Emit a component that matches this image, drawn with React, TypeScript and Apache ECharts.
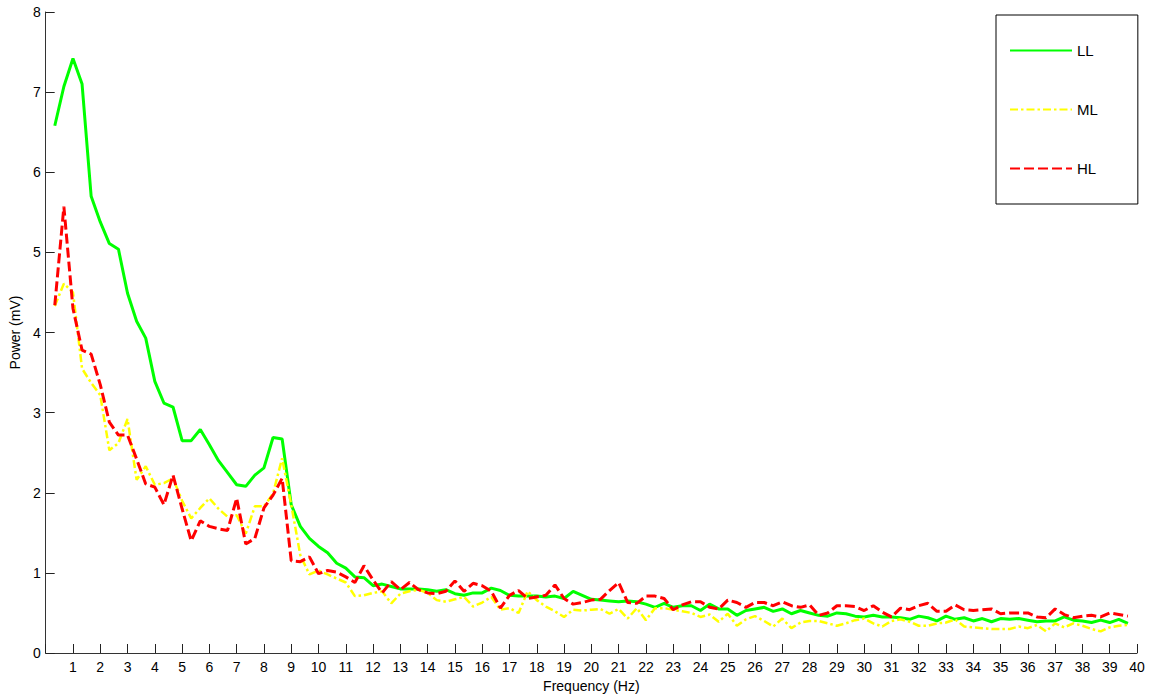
import React, { useEffect, useRef } from "react";
import * as echarts from "echarts";

// Spectral resolution of the power estimates (Hz); first bin sits at one step.
const FREQ_STEP = 1 / 3;

// Power (mV) per frequency bin, one value per step from 1/3 Hz up to 39 2/3 Hz.
const LL = [
  6.58, 7.07, 7.42, 7.1, 5.7, 5.38, 5.11, 5.04, 4.49, 4.14,
  3.93, 3.39, 3.12, 3.07, 2.65, 2.65, 2.79, 2.6, 2.4, 2.25,
  2.1, 2.08, 2.22, 2.31, 2.69, 2.67, 1.85, 1.58, 1.43, 1.33,
  1.25, 1.12, 1.06, 0.95, 0.94, 0.84, 0.86, 0.83, 0.8, 0.8,
  0.8, 0.79, 0.77, 0.79, 0.74, 0.72, 0.75, 0.75, 0.81, 0.78,
  0.72, 0.71, 0.71, 0.71, 0.7, 0.71, 0.68, 0.77, 0.72, 0.67,
  0.66, 0.65, 0.64, 0.65, 0.64, 0.61, 0.57, 0.62, 0.57, 0.59,
  0.59, 0.53, 0.61, 0.55, 0.55, 0.47, 0.53, 0.55, 0.57, 0.52,
  0.55, 0.49, 0.53, 0.5, 0.47, 0.46, 0.5, 0.49, 0.46, 0.45,
  0.47, 0.45, 0.45, 0.44, 0.42, 0.46, 0.44, 0.4, 0.46, 0.42,
  0.44, 0.4, 0.43, 0.39, 0.43, 0.42, 0.43, 0.41, 0.39, 0.4,
  0.4, 0.45, 0.41, 0.4, 0.38, 0.41, 0.38, 0.42, 0.37,
];

const ML = [
  4.33, 4.61, 4.5, 3.55, 3.37, 3.22, 2.53, 2.62, 2.92, 2.16,
  2.33, 2.1, 2.12, 2.18, 1.9, 1.68, 1.81, 1.93, 1.8, 1.7,
  1.72, 1.49, 1.83, 1.83, 1.99, 2.43, 1.85, 1.22, 0.98, 1.03,
  0.98, 0.93, 0.88, 0.71, 0.72, 0.75, 0.77, 0.62, 0.74, 0.77,
  0.79, 0.75, 0.66, 0.64, 0.67, 0.7, 0.58, 0.63, 0.7, 0.54,
  0.56, 0.5, 0.77, 0.66, 0.58, 0.52, 0.45, 0.54, 0.53, 0.54,
  0.55, 0.49, 0.55, 0.43, 0.56, 0.41, 0.56, 0.56, 0.54, 0.52,
  0.5, 0.45, 0.48, 0.39, 0.49, 0.34, 0.42, 0.46, 0.4, 0.33,
  0.43, 0.31, 0.38, 0.4, 0.4, 0.37, 0.34, 0.37, 0.41, 0.43,
  0.37, 0.33, 0.4, 0.42, 0.39, 0.34, 0.34, 0.37, 0.38, 0.42,
  0.33, 0.32, 0.31, 0.3, 0.3, 0.3, 0.33, 0.31, 0.35, 0.27,
  0.37, 0.32, 0.37, 0.34, 0.3, 0.27, 0.32, 0.34, 0.35,
];

const HL = [
  4.34, 5.57, 4.3, 3.78, 3.73, 3.35, 2.88, 2.72, 2.72, 2.42,
  2.11, 2.07, 1.85, 2.22, 1.8, 1.4, 1.65, 1.58, 1.55, 1.53,
  1.93, 1.36, 1.43, 1.81, 1.97, 2.18, 1.15, 1.14, 1.2, 0.99,
  1.03, 1.01, 0.95, 0.88, 1.09, 0.91, 0.75, 0.89, 0.79, 0.88,
  0.79, 0.75, 0.74, 0.77, 0.9, 0.77, 0.87, 0.84, 0.77, 0.56,
  0.72, 0.78, 0.68, 0.7, 0.72, 0.85, 0.68, 0.61, 0.63, 0.66,
  0.67, 0.78, 0.88, 0.63, 0.62, 0.71, 0.71, 0.68, 0.54, 0.6,
  0.64, 0.64, 0.57, 0.55, 0.66, 0.63, 0.57, 0.63, 0.63, 0.59,
  0.64, 0.59, 0.57, 0.6, 0.47, 0.5, 0.59, 0.59, 0.58, 0.53,
  0.59, 0.51, 0.45, 0.56, 0.54, 0.59, 0.62, 0.52, 0.52, 0.6,
  0.54, 0.53, 0.54, 0.55, 0.49, 0.5, 0.5, 0.5, 0.45, 0.44,
  0.55, 0.48, 0.44, 0.46, 0.47, 0.45, 0.5, 0.48, 0.46,
];

const FONT = "'Liberation Sans', Arial, sans-serif";

const toPoints = (values: number[]) =>
  values.map((v, i) => [(i + 1) * FREQ_STEP, v]);

const axisCommon = {
  type: "value" as const,
  interval: 1,
  splitLine: { show: false },
  axisLine: { show: true, lineStyle: { color: "#333", width: 1 } },
  axisTick: { show: true, inside: true, length: 9, lineStyle: { color: "#222", width: 1 } },
  nameTextStyle: { color: "#000", fontSize: 14, fontFamily: FONT },
};

const lineSeries = (name: string, values: number[], color: string, type: any, width: number) => ({
  name,
  type: "line",
  data: toPoints(values),
  showSymbol: false,
  symbol: "none",
  color,
  itemStyle: { color, opacity: 0 },
  lineStyle: { color, width, type },
});

export default function App() {
  const ref = useRef<HTMLDivElement>(null);

  useEffect(() => {
    if (!ref.current) return;
    const chart = echarts.init(ref.current, undefined, { renderer: "svg" });
    chart.setOption({
      animation: false,
      backgroundColor: "#fff",
      grid: { left: 43, right: 16, top: 12, bottom: 45, containLabel: false },
      legend: {
        orient: "vertical",
        left: 996,
        top: 15,
        padding: [28, 40, 28, 13],
        itemWidth: 62,
        itemHeight: 14,
        itemGap: 44,
        borderColor: "#000",
        borderWidth: 1,
        itemStyle: { opacity: 0 },
        textStyle: { color: "#000", fontSize: 15, fontFamily: FONT },
        data: ["LL", "ML", "HL"],
      },
      xAxis: {
        ...axisCommon,
        min: 0,
        max: 40,
        name: "Frequency (Hz)",
        nameLocation: "middle",
        nameGap: 24,
        axisLabel: {
          color: "#000",
          fontSize: 14,
          fontFamily: FONT,
          margin: 7,
          formatter: (v: number) => (v === 0 ? "" : String(v)),
        },
      },
      yAxis: {
        ...axisCommon,
        min: 0,
        max: 8,
        name: "Power (mV)",
        nameLocation: "middle",
        nameGap: 20,
        axisLabel: { color: "#000", fontSize: 14, fontFamily: FONT, margin: 5 },
      },
      series: [
        lineSeries("LL", LL, "#00ff00", "solid", 3),
        lineSeries("ML", ML, "#ffff00", [8, 3, 2.5, 3], 2.5),
        lineSeries("HL", HL, "#ff0000", [10, 4], 3),
      ],
    });
    return () => chart.dispose();
  }, []);

  return (
    <div
      ref={ref}
      style={{ position: "fixed", left: 0, top: 0, width: 1153, height: 698, background: "#fff" }}
    />
  );
}
